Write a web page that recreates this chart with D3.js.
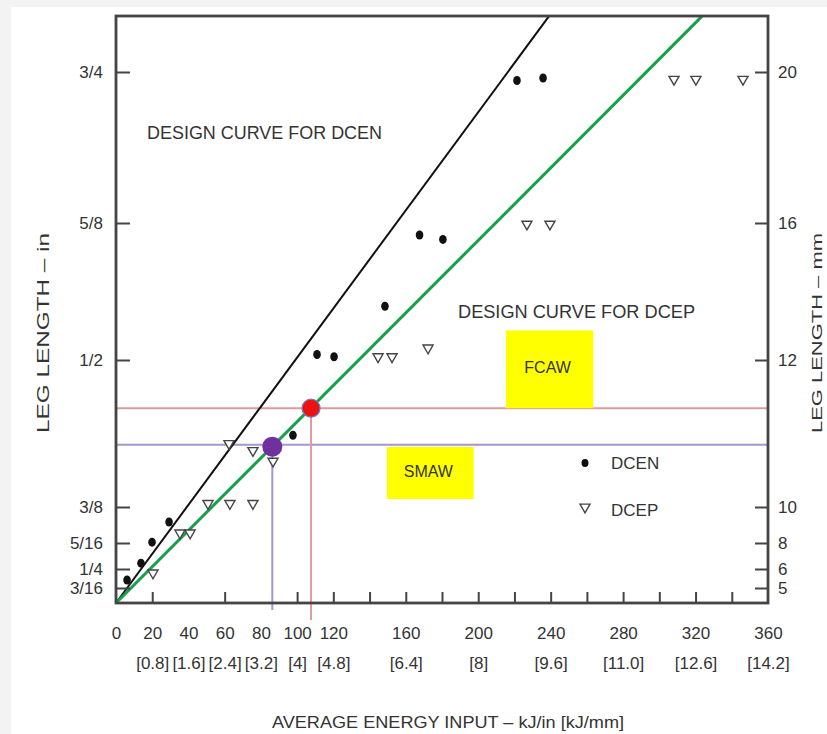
<!DOCTYPE html>
<html>
<head>
<meta charset="utf-8">
<script src="https://cdn.jsdelivr.net/npm/d3@7"></script>
<style>
  body { margin: 0; background: #f3f3f3; }
  svg { display: block; font-family: "Liberation Sans", Arial, sans-serif; }
  .axis text { fill: #333; font-size: 17px; }
  .axis line { stroke: #444; stroke-width: 2; }
</style>
</head>
<body>
<div id="chart"></div>
<script>
// leg length ticks (inches) and their mm labels on the right
const legTicks = [3/16, 1/4, 5/16, 3/8, 1/2, 5/8, 3/4]
const legLabels = ['3/16', '1/4', '5/16', '3/8', '1/2', '5/8', '3/4']
const mmLabels = ['5', '6', '8', '10', '12', '16', '20']

// energy input ticks (kJ/in) and kJ/mm labels
const energyTicks = [0, 20, 40, 60, 80, 100, 120, 160, 200, 240, 280, 320, 360]
const energyMm = ['', '[0.8]', '[1.6]', '[2.4]', '[3.2]', '[4]', '[4.8]', '[6.4]', '[8]', '[9.6]', '[11.0]', '[12.6]', '[14.2]']
const energyMinor = [20, 60, 100, 120, 140, 160, 180, 200, 220, 240, 260, 280, 300, 320, 340]

// measured points [energy kJ/in, leg in]
const dcenPoints = [
  [6.1, 0.214], [13.8, 0.264], [19.9, 0.314], [29.3, 0.349], [97.7, 0.436],
  [111.0, 0.505], [120.4, 0.503], [148.5, 0.549], [167.6, 0.614], [180.5, 0.610],
  [221.4, 0.743], [235.8, 0.745]
]
const dcepPoints = [
  [20.4, 0.237], [35.3, 0.330], [40.9, 0.330], [50.8, 0.378], [62.9, 0.378],
  [75.6, 0.378], [62.4, 0.429], [75.6, 0.423], [86.7, 0.414], [144.7, 0.503],
  [152.4, 0.503], [172.3, 0.511], [226.9, 0.624], [239.6, 0.624],
  [308.1, 0.744], [320.2, 0.744], [346.2, 0.744]
]

// design curves (straight lines from origin to top of frame)
const dcenCurve = [[0, 0], [239, 0.796]]
const dcepCurve = [[0, 0], [323.5, 0.796]]

// process markers [energy, leg]
const smawPoint = [86.3, 0.428]
const fcawPoint = [107.7, 0.459]

const W = 827, H = 734
const margin = { top: 16, left: 116 }
const width = 652, height = 587

const svg = d3.select('#chart').append('svg')
  .attr('width', W)
  .attr('height', H)

svg.append('rect')
  .attr('x', 11).attr('y', 7)
  .attr('width', W - 11).attr('height', H - 7)
  .attr('fill', '#fff')

const g = svg.append('g')
  .attr('transform', 'translate(' + margin.left + ',' + margin.top + ')')

const x = d3.scaleLinear().domain([0, 360]).range([0, width])
// the printed leg axis is not uniform near the bottom, so use a piecewise scale
const y = d3.scaleLinear()
  .domain([0, 3/16, 1/4, 5/16, 3/8, 1/2, 5/8, 3/4])
  .range([587, 572, 553, 527, 491, 344, 207, 56])

// reference lines for SMAW / FCAW
const refs = [
  { p: smawPoint, color: '#a895cc', below: 7 },
  { p: fcawPoint, color: '#dc9c9f', below: 17 }
]
refs.forEach(r => {
  g.append('line')
    .attr('x1', 0).attr('x2', width)
    .attr('y1', y(r.p[1])).attr('y2', y(r.p[1]))
    .attr('stroke', r.color).attr('stroke-width', 2)
  g.append('line')
    .attr('x1', x(r.p[0])).attr('x2', x(r.p[0]))
    .attr('y1', y(r.p[1])).attr('y2', height + r.below)
    .attr('stroke', r.color).attr('stroke-width', 2)
})

// yellow process labels
const boxes = [
  { text: 'FCAW', x0: 215.3, x1: 263.5, top: 0.527, bottom: 0.459 },
  { text: 'SMAW', x0: 149.6, x1: 197.5, top: 0.426, bottom: 0.375 + 8 / 147 * 0.125 }
]
boxes.forEach(b => {
  g.append('rect')
    .attr('x', x(b.x0)).attr('y', y(b.top))
    .attr('width', x(b.x1) - x(b.x0))
    .attr('height', y(b.bottom) - y(b.top))
    .attr('fill', '#ffff00')
  g.append('text')
    .attr('x', (x(b.x0) + x(b.x1)) / 2 - 2)
    .attr('y', (y(b.top) + y(b.bottom)) / 2 - 2)
    .attr('dy', '0.35em')
    .attr('text-anchor', 'middle')
    .attr('font-size', 16)
    .attr('fill', '#333')
    .text(b.text)
})

const line = d3.line().x(d => x(d[0])).y(d => y(d[1]))

g.append('path').datum(dcenCurve)
  .attr('d', line)
  .attr('fill', 'none')
  .attr('stroke', '#111')
  .attr('stroke-width', 2)

g.append('path').datum(dcepCurve)
  .attr('d', line)
  .attr('fill', 'none')
  .attr('stroke', '#17a04a')
  .attr('stroke-width', 3)

const tri = d3.symbol().type(d3.symbolTriangle).size(44)

g.append('g').selectAll('path')
  .data(dcepPoints)
  .enter().append('path')
  .attr('d', tri)
  .attr('transform', d => 'translate(' + x(d[0]) + ',' + y(d[1]) + ') rotate(180)')
  .attr('fill', '#fff')
  .attr('stroke', '#444')
  .attr('stroke-width', 1.4)

g.append('g').selectAll('ellipse')
  .data(dcenPoints)
  .enter().append('ellipse')
  .attr('cx', d => x(d[0]))
  .attr('cy', d => y(d[1]))
  .attr('rx', 3.8).attr('ry', 4.5)
  .attr('fill', '#111')

// highlighted intersections
g.append('circle')
  .attr('cx', x(smawPoint[0])).attr('cy', y(smawPoint[1]) + 2)
  .attr('r', 10)
  .attr('fill', '#7030a0')
g.append('circle')
  .attr('cx', x(fcawPoint[0])).attr('cy', y(fcawPoint[1]))
  .attr('r', 9)
  .attr('fill', '#ee1111')
  .attr('stroke', '#6c7fc0')
  .attr('stroke-width', 1.2)

// axes
const leftAxis = d3.axisLeft(y)
  .tickValues(legTicks)
  .tickFormat((d, i) => legLabels[i])
  .tickSizeInner(-14).tickSizeOuter(0)
  .tickPadding(13)
g.append('g').attr('class', 'axis').call(leftAxis)
  .call(s => s.select('.domain').remove())

const rightAxis = d3.axisRight(y)
  .tickValues(legTicks)
  .tickFormat((d, i) => mmLabels[i])
  .tickSizeInner(-13).tickSizeOuter(0)
  .tickPadding(10)
g.append('g').attr('class', 'axis')
  .attr('transform', 'translate(' + width + ',0)')
  .call(rightAxis)
  .call(s => s.select('.domain').remove())

g.append('g').attr('class', 'axis')
  .attr('transform', 'translate(0,' + height + ')')
  .call(d3.axisBottom(x).tickValues(energyMinor).tickFormat('').tickSizeInner(-11).tickSizeOuter(0))
  .call(s => s.select('.domain').remove())

g.append('g').attr('class', 'axis')
  .attr('transform', 'translate(0,' + height + ')')
  .call(d3.axisBottom(x).tickValues(energyTicks).tickSize(0).tickPadding(24))
  .call(s => s.select('.domain').remove())

g.append('g').attr('class', 'axis')
  .attr('transform', 'translate(0,' + height + ')')
  .call(d3.axisBottom(x).tickValues(energyTicks).tickFormat((d, i) => energyMm[i]).tickSize(0).tickPadding(54))
  .call(s => s.select('.domain').remove())

// frame
g.append('rect')
  .attr('width', width).attr('height', height)
  .attr('fill', 'none')
  .attr('stroke', '#444')
  .attr('stroke-width', 2.8)

// annotations
const notes = [
  { text: 'DESIGN CURVE FOR DCEN', px: 31, py: 117, len: 235 },
  { text: 'DESIGN CURVE FOR DCEP', px: 342, py: 296, len: 237 }
]
g.selectAll('.note')
  .data(notes)
  .enter().append('text')
  .attr('class', 'note')
  .attr('x', d => d.px).attr('y', d => d.py)
  .attr('dy', '0.35em')
  .attr('font-size', 18)
  .attr('fill', '#333')
  .attr('textLength', d => d.len)
  .attr('lengthAdjust', 'spacingAndGlyphs')
  .text(d => d.text)

// legend
const legend = g.append('g').attr('transform', 'translate(469,447)')
legend.append('ellipse').attr('cx', 0).attr('cy', 0).attr('rx', 3.5).attr('ry', 4).attr('fill', '#111')
legend.append('text').attr('x', 26).attr('y', 0).attr('dy', '0.35em')
  .attr('font-size', 17).attr('fill', '#333').text('DCEN')
legend.append('path').attr('d', tri)
  .attr('transform', 'translate(0,44) rotate(180)')
  .attr('fill', '#fff').attr('stroke', '#444').attr('stroke-width', 1.4)
legend.append('text').attr('x', 26).attr('y', 47).attr('dy', '0.35em')
  .attr('font-size', 17).attr('fill', '#333').text('DCEP')

// axis titles
svg.append('text')
  .attr('x', 448).attr('y', 722)
  .attr('dy', '0.35em')
  .attr('text-anchor', 'middle')
  .attr('font-size', 17).attr('fill', '#333')
  .attr('textLength', 352).attr('lengthAdjust', 'spacingAndGlyphs')
  .text('AVERAGE ENERGY INPUT – kJ/in [kJ/mm]')

svg.append('text')
  .attr('transform', 'translate(43,333) rotate(-90)')
  .attr('dy', '0.35em')
  .attr('text-anchor', 'middle')
  .attr('font-size', 17).attr('fill', '#333')
  .attr('textLength', 200).attr('lengthAdjust', 'spacingAndGlyphs')
  .text('LEG LENGTH – in')

svg.append('text')
  .attr('transform', 'translate(817,333) rotate(-90)')
  .attr('dy', '0.35em')
  .attr('text-anchor', 'middle')
  .attr('font-size', 15).attr('fill', '#333')
  .attr('textLength', 200).attr('lengthAdjust', 'spacingAndGlyphs')
  .text('LEG LENGTH – mm')
</script>
</body>
</html>
